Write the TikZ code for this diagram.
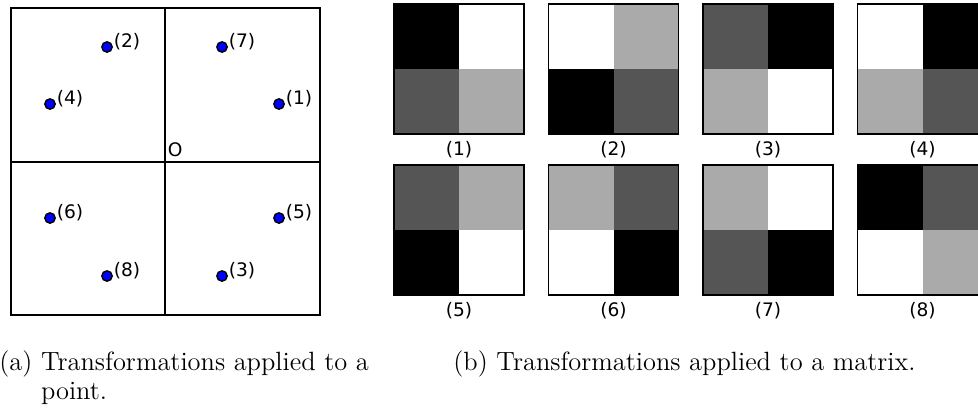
\documentclass[tikz,border=0pt]{standalone}
\usepackage{fontspec}
\newfontfamily\dejavu{DejaVu Sans}
\definecolor{darkcell}{gray}{0.333}
\definecolor{lightcell}{gray}{0.667}
\tikzset{
  dot/.style={circle, draw=black, fill=blue, line width=0.7pt, inner sep=0pt, minimum size=5.2pt},
  ptlabel/.style={font=\dejavu\fontsize{9.3}{11}\selectfont, inner sep=0pt, anchor=south west},
  matlabel/.style={font=\dejavu\fontsize{9.3}{11}\selectfont, inner sep=0pt},
  caption/.style={font=\fontsize{13.2}{14.5}\selectfont, anchor=base west, inner sep=0pt}
}
\begin{document}
\begin{tikzpicture}[x=0.5pt, y=-0.5pt]
  \clip (0,0) rectangle (978,412);

  % plane split in four quadrants
  \draw[line width=1pt] (10.5,8) rectangle (319.5,315);
  \draw[line width=1pt] (165,8) -- (165,315);
  \draw[line width=1pt] (10.5,162) -- (319.5,162);
  \coordinate (O) at (165,162);
  \node[ptlabel, xshift=1.2pt, yshift=2.3pt] (olabel) at (O) {O};

  % the eight images of the point
  \foreach \n/\x/\y in {1/279/104, 2/107/47, 3/222/276, 4/50/104,
                        5/279/218, 6/50/218, 7/222/47, 8/107/276} {
    \node[dot] (p\n) at (\x,\y) {};
    \node[ptlabel, xshift=3.2pt, yshift=-1.8pt] (l\n) at (p\n.center) {(\n)};
  }

  % the eight images of the matrix
  \foreach \n/\col/\row/\tl/\tr/\bl/\br in {
      1/0/0/black/white/darkcell/lightcell,
      2/1/0/white/lightcell/black/darkcell,
      3/2/0/darkcell/black/lightcell/white,
      4/3/0/white/black/lightcell/darkcell,
      5/0/1/darkcell/lightcell/black/white,
      6/1/1/lightcell/darkcell/white/black,
      7/2/1/lightcell/white/darkcell/black,
      8/3/1/black/darkcell/white/lightcell} {
    \begin{scope}[shift={({394+154.5*\col},{4+160.7*\row})}]
      \fill[\tl] (0,0) rectangle (65,65);
      \fill[\tr] (65,0) rectangle (130,65);
      \fill[\bl] (0,65) rectangle (65,130);
      \fill[\br] (65,65) rectangle (130,130);
      \draw[line width=0.8pt] (0,0) rectangle (130,130);
      \node[matlabel] (m\n) at (65,146) {(\n)};
    \end{scope}
  }

  % sub-captions
  \node[caption] (capa) at (-1,370) {\begin{tabular}[t]{@{}l@{\ }l@{}}(a)&Transformations applied to a\\&point.\end{tabular}};
  \node[caption] (capb) at (453,370) {(b) Transformations applied to a matrix.};
\end{tikzpicture}
\end{document}
